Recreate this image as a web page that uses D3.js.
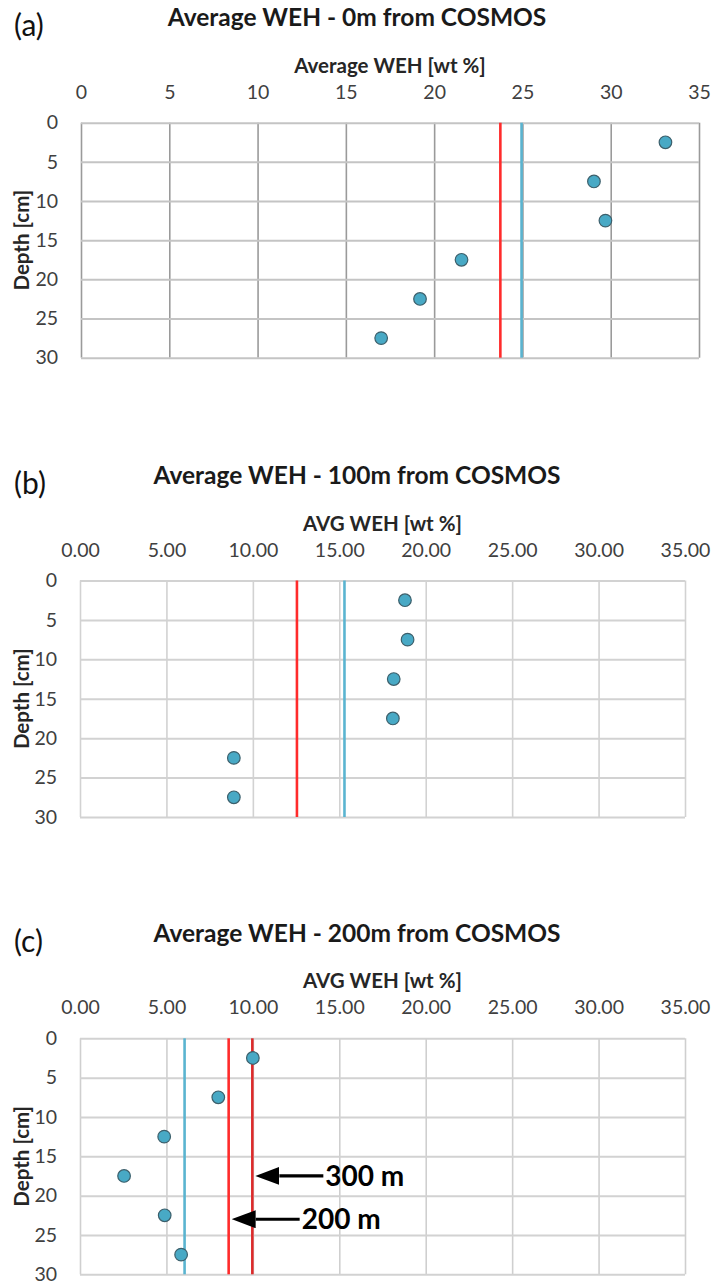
<!DOCTYPE html>
<html>
<head>
<meta charset="utf-8">
<script src="https://cdn.jsdelivr.net/npm/d3@7"></script>
<style>
  body { margin: 0; background: #fff; }
  svg text { font-family: Lato, "Open Sans", sans-serif; }
</style>
</head>
<body>
<div id="chart"></div>
<script>
// depth midpoints of the sampled layers [cm]
const depths = [2.5, 7.5, 12.5, 17.5, 22.5, 27.5];

// average WEH [wt %] per layer
const weh0m = [33.1, 29.05, 29.7, 21.55, 19.2, 17.0];
const weh100m = [18.8, 18.95, 18.15, 18.1, 8.9, 8.9];
const weh200m = [10.0, 8.0, 4.87, 2.55, 4.9, 5.85];

// vertical reference lines per panel
const redValues = [23.75, 12.55, 8.6];
const blueValues = [24.95, 15.3, 6.05];
const red300m = 9.97;

// arrow labels in panel (c)
const arrowLabels = ["300 m", "200 m"];
const arrowValues = [red300m, 8.6];
const arrowDepths = [17.5, 23];

const xTicks = [0, 5, 10, 15, 20, 25, 30, 35];
const yTicks = [0, 5, 10, 15, 20, 25, 30];

const panelLetters = ["(a)", "(b)", "(c)"];
const panelTitles = ["Average WEH - 0m from COSMOS", "Average WEH - 100m from COSMOS", "Average WEH - 200m from COSMOS"];
const xTitles = ["Average WEH [wt %]", "AVG WEH [wt %]", "AVG WEH [wt %]"];

const W = 713, H = 1281;

const svg = d3.select("#chart").append("svg")
    .attr("width", W)
    .attr("height", H);

// arrow head: base sits on the line end, tip points further along the line
svg.append("defs").append("marker")
    .attr("id", "arrowHead")
    .attr("viewBox", "0 0 24 18")
    .attr("refX", 0).attr("refY", 9)
    .attr("markerUnits", "userSpaceOnUse")
    .attr("markerWidth", 24).attr("markerHeight", 18)
    .attr("orient", "auto")
    .append("path")
    .attr("d", "M0,0 L24,9 L0,18 Z")
    .attr("fill", "#000");

function drawPanel(i, values, box, opts) {
    let g = svg.append("g");

    let x = d3.scaleLinear().domain([0, 35]).range([box.left, box.right]);
    let y = d3.scaleLinear().domain([0, 30]).range([box.top, box.bottom]);

    // grid
    g.append("g")
        .attr("transform", "translate(0," + box.top + ")")
        .call(d3.axisTop(x).tickValues(xTicks).tickSize(-(box.bottom - box.top)).tickFormat(""))
        .call(s => s.select(".domain").remove())
        .selectAll("line")
        .attr("stroke", opts.vGrid)
        .attr("stroke-width", 1.6);

    g.append("g")
        .attr("transform", "translate(" + box.left + ",0)")
        .call(d3.axisLeft(y).tickValues(yTicks).tickSize(-(box.right - box.left)).tickFormat(""))
        .call(s => s.select(".domain").remove())
        .selectAll("line")
        .attr("stroke", opts.hGrid)
        .attr("stroke-width", 2);

    // tick labels
    let xAxis = g.append("g")
        .attr("transform", "translate(0," + (box.top - 21) + ")")
        .call(d3.axisTop(x).tickValues(xTicks).tickSize(0).tickFormat(d3.format(opts.fmt)));
    xAxis.select(".domain").remove();
    xAxis.selectAll("text")
        .attr("font-size", 19.5)
        .attr("fill", "#404040")
        .attr("font-family", "Lato");

    let yAxis = g.append("g")
        .attr("transform", "translate(" + (box.left - 20) + ",0)")
        .call(d3.axisLeft(y).tickValues(yTicks).tickSize(0));
    yAxis.select(".domain").remove();
    yAxis.selectAll("text")
        .attr("font-size", 19.5)
        .attr("fill", "#404040")
        .attr("font-family", "Lato");

    // vertical reference lines
    let refs = [{v: blueValues[i], c: "#5ab4d0"}, {v: redValues[i], c: "#ff2b2b"}];
    if (opts.extra) refs.push({v: opts.extra, c: "#dc2a2a"});
    g.selectAll(".ref").data(refs).enter().append("line")
        .attr("x1", d => x(d.v)).attr("x2", d => x(d.v))
        .attr("y1", box.top).attr("y2", box.bottom)
        .attr("stroke", d => d.c)
        .attr("stroke-width", 2.6);

    // points
    g.selectAll("circle").data(values).enter().append("circle")
        .attr("cx", d => x(d))
        .attr("cy", (d, k) => y(depths[k]))
        .attr("r", 6.3)
        .attr("fill", "#48a9c5")
        .attr("stroke", "#3c5f6b")
        .attr("stroke-width", 1.2);

    // titles
    g.append("text")
        .attr("x", 14).attr("y", box.top - 97)
        .attr("dy", "0.35em")
        .attr("font-family", "Liberation Sans")
        .attr("font-size", 30)
        .attr("fill", "#111")
        .text(panelLetters[i]);

    g.append("text")
        .attr("x", 357).attr("y", box.top - 105)
        .attr("dy", "0.35em")
        .attr("text-anchor", "middle")
        .attr("font-weight", "bold")
        .attr("font-size", 24.5)
        .attr("fill", "#1a1a1a")
        .text(panelTitles[i]);

    g.append("text")
        .attr("x", (box.left + box.right) / 2).attr("y", box.top - 57)
        .attr("dy", "0.35em")
        .attr("text-anchor", "middle")
        .attr("font-weight", "bold")
        .attr("font-size", 20.5)
        .attr("fill", "#262626")
        .text(xTitles[i]);

    g.append("text")
        .attr("transform", "translate(22," + ((box.top + box.bottom) / 2) + ") rotate(-90)")
        .attr("dy", "0.35em")
        .attr("text-anchor", "middle")
        .attr("font-weight", "bold")
        .attr("font-size", 20.5)
        .attr("fill", "#262626")
        .text("Depth [cm]");

    return {x: x, y: y};
}

drawPanel(0, weh0m, {left: 81, right: 699, top: 122.7, bottom: 357.7},
    {fmt: "d", vGrid: "#9a9a9a", hGrid: "#c4c4c4"});
drawPanel(1, weh100m, {left: 80, right: 685, top: 580.5, bottom: 817},
    {fmt: ".2f", vGrid: "#d2d2d2", hGrid: "#d2d2d2"});
let pc = drawPanel(2, weh200m, {left: 80, right: 685, top: 1038.3, bottom: 1274.3},
    {fmt: ".2f", vGrid: "#cfcfcf", hGrid: "#d2d2d2", extra: red300m});

// arrows with labels in panel (c)
let ann = svg.append("g");
arrowLabels.forEach((label, k) => {
    let tipX = pc.x(arrowValues[k]) + 3;
    let yy = pc.y(arrowDepths[k]);
    ann.append("line")
        .attr("x1", tipX + 68).attr("x2", tipX + 24)
        .attr("y1", yy).attr("y2", yy)
        .attr("stroke", "#000")
        .attr("stroke-width", 3.2)
        .attr("marker-end", "url(#arrowHead)");
    ann.append("text")
        .attr("x", tipX + 70).attr("y", yy)
        .attr("dy", "0.36em")
        .attr("font-family", "Liberation Sans")
        .attr("font-weight", "bold")
        .attr("font-size", 28)
        .attr("fill", "#000")
        .text(label);
});
</script>
</body>
</html>
